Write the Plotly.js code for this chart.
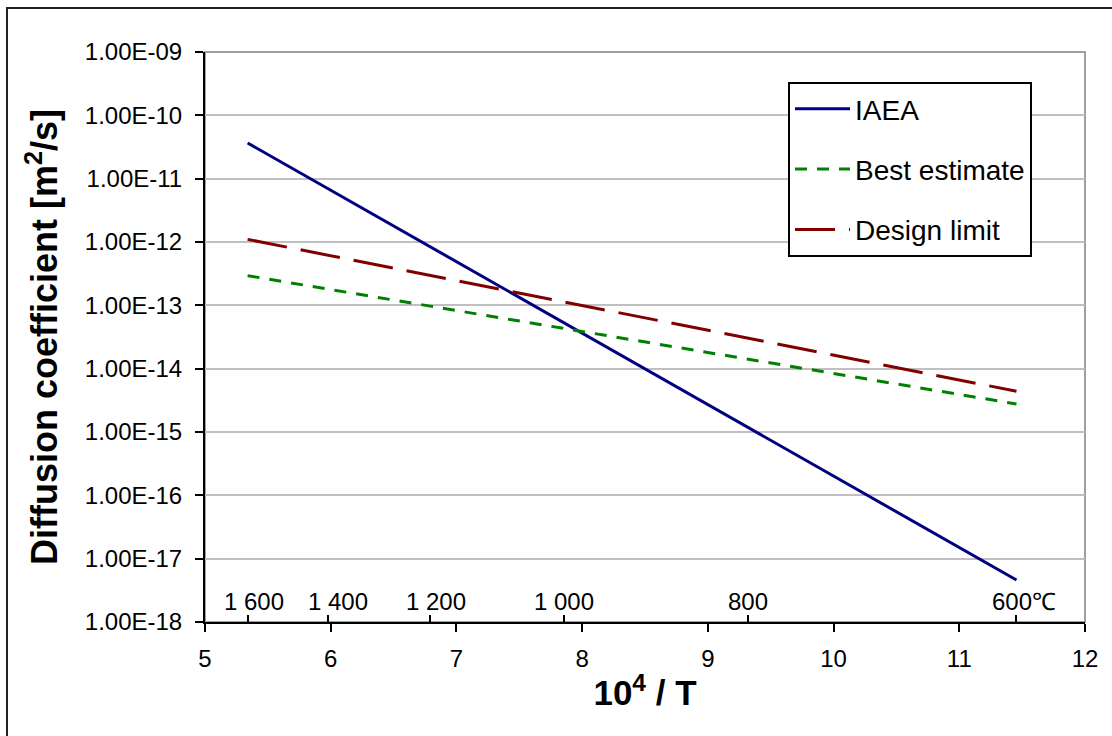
<!DOCTYPE html>
<html><head><meta charset="utf-8">
<script src="https://cdn.plot.ly/plotly-3.0.1.min.js"></script>
<style>html,body{margin:0;padding:0;background:#fff}#chart{width:1112px;height:736px}</style>
</head><body><div id="chart"></div>
<script>
// 10^4 / T values at the temperature points (1600..600 °C)
const invT = [5.339, 5.977, 6.789, 7.855, 9.320, 11.455];
const iaea = [3.66e-11, 6.97e-12, 8.45e-13, 5.31e-14, 1.18e-15, 4.6e-18];
const bestEstimate = [2.94e-13, 1.81e-13, 9.7e-14, 4.3e-14, 1.41e-14, 2.77e-15];
const designLimit = [1.10e-12, 6.2e-13, 2.98e-13, 1.14e-13, 3.04e-14, 4.4e-15];
const tempLabels = ["1 600", "1 400", "1 200", "1 000", "800", "600℃"];
const yTickVals = [1e-18, 1e-17, 1e-16, 1e-15, 1e-14, 1e-13, 1e-12, 1e-11, 1e-10, 1e-9];
const yTickText = ["1.00E-18","1.00E-17","1.00E-16","1.00E-15","1.00E-14","1.00E-13","1.00E-12","1.00E-11","1.00E-10","1.00E-09"];
const xTickVals = [5, 6, 7, 8, 9, 10, 11, 12];

const FONT = '"Liberation Sans", Arial, sans-serif';

const traces = [
  {x: invT, y: iaea, name: 'IAEA', mode: 'lines', legendgroup: 'a',
   line: {color: '#000080', width: 3}},
  {x: invT, y: bestEstimate, name: 'Best estimate', mode: 'lines', legendgroup: 'b',
   line: {color: '#008000', width: 3, dash: '12px,10px'}},
  {x: invT, y: designLimit, name: 'Design limit', mode: 'lines', legendgroup: 'c',
   line: {color: '#800000', width: 3, dash: '40px,14px'}},
  {x: [invT[0]], y: [null], xaxis: 'x2', yaxis: 'y', showlegend: false, hoverinfo: 'skip', mode: 'lines'}
];

const L = 205, R = 1085, T = 52, B = 622, W = 1112, H = 736;
const px = v => (v - L) / (R - L);
const py = v => (B - v) / (B - T);

const labelShift = [6, 10, 6, 0, 0, 8];
const annotations = tempLabels.map((t, i) => ({
  x: invT[i], xref: 'x', y: 0, yref: 'paper', yanchor: 'bottom',
  xanchor: 'center', xshift: labelShift[i], yshift: 5,
  text: t, showarrow: false, font: {family: FONT, size: 24, color: '#000'}
}));

const layout = {
  width: W, height: H,
  margin: {l: L, r: W - R, t: T, b: H - B, pad: 0},
  paper_bgcolor: '#fff', plot_bgcolor: '#fff',
  font: {family: FONT, size: 24, color: '#000'},
  showlegend: true,
  legend: {
    x: px(788), y: py(82), xanchor: 'left', yanchor: 'top',
    bgcolor: '#fff', bordercolor: '#000', borderwidth: 2,
    font: {family: FONT, size: 28, color: '#000'},
    traceorder: 'grouped', tracegroupgap: 21, itemwidth: 55
  },
  xaxis: {
    range: [5, 12], tickvals: xTickVals, ticktext: xTickVals.map(String),
    showgrid: false, zeroline: false,
    showline: true, linecolor: '#000', linewidth: 2,
    ticks: 'outside', ticklen: 8, tickwidth: 2, tickcolor: '#000',
    tickfont: {family: FONT, size: 24, color: '#000'},
    ticklabelstandoff: 6,
    title: {text: '10<sup>4</sup> / T', font: {family: FONT, size: 35, color: '#000', weight: 'bold'}, standoff: 10}
  },
  xaxis2: {
    overlaying: 'x', matches: 'x', anchor: 'y', side: 'bottom',
    tickvals: invT, showticklabels: false, showgrid: false, showline: false, zeroline: false,
    ticks: 'inside', ticklen: 7, tickwidth: 2, tickcolor: '#000'
  },
  yaxis: {
    type: 'log', range: [-18, -9], tickvals: yTickVals, ticktext: yTickText,
    showgrid: true, gridcolor: '#c0c0c0', gridwidth: 2, zeroline: false,
    showline: true, linecolor: '#000', linewidth: 2,
    ticks: 'outside', ticklen: 8, tickwidth: 2, tickcolor: '#000',
    tickfont: {family: FONT, size: 24, color: '#000'},
    ticklabelstandoff: 8,
    title: {text: 'Diffusion coefficient [m<sup>2</sup>/s]', font: {family: FONT, size: 36, color: '#000', weight: 'bold'}, standoff: 16}
  },
  shapes: [
    {type: 'rect', xref: 'paper', yref: 'paper', x0: 0, x1: 1, y0: 0, y1: 1,
     line: {color: '#a0a0a0', width: 2}, layer: 'below'},
    {type: 'rect', xref: 'paper', yref: 'paper', x0: px(7), x1: px(W + 10), y0: py(H + 10), y1: py(8),
     line: {color: '#222', width: 2}, fillcolor: 'rgba(0,0,0,0)', layer: 'above'}
  ],
  annotations: annotations
};

Plotly.newPlot('chart', traces, layout, {displayModeBar: false, staticPlot: true});
</script></body></html>
